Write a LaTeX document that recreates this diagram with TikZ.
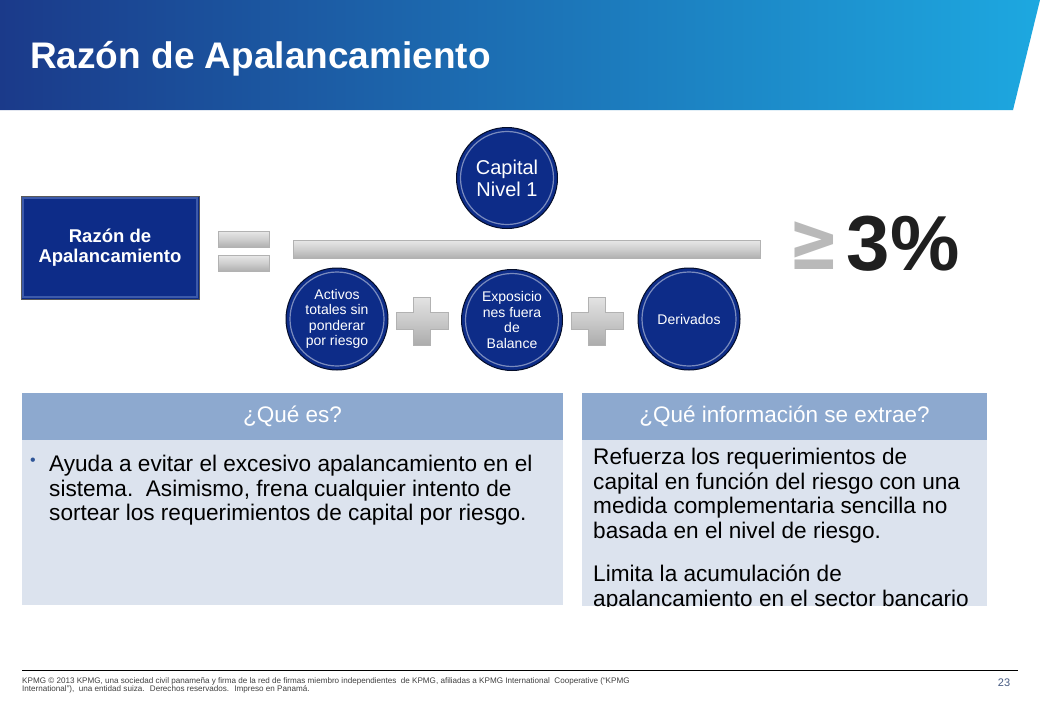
\documentclass[tikz,border=0pt]{standalone}
\usepackage{fontspec}
\setmainfont{Liberation Sans}
\newfontfamily\symfont{DejaVu Sans}
\definecolor{navy}{RGB}{13,44,136}
\definecolor{navyrim}{RGB}{60,90,170}
\definecolor{hdrL}{RGB}{27,58,138}
\definecolor{hdrR}{RGB}{29,168,224}
\definecolor{panelhead}{RGB}{141,169,207}
\definecolor{panelbody}{RGB}{220,227,238}
\definecolor{bulletblue}{RGB}{47,85,151}
\definecolor{pagenum}{RGB}{70,90,130}
\tikzset{
  ball/.style={circle, fill=navy, draw=black!70!navy, line width=1pt, text=white, align=center, inner sep=0pt},
  ballring/.style={draw=white, draw opacity=.45, line width=1.2pt},
  greybar/.style={rectangle, inner sep=0pt, top color=gray!18, bottom color=gray!62, middle color=gray!38, draw=gray!60},
  panelhdr/.style={rectangle, fill=panelhead, inner sep=0pt, text=white, font=\fontsize{22.5}{24}\selectfont},
  panelbox/.style={rectangle, fill=panelbody, inner sep=0pt},
  bodytext/.style={inner sep=0pt, align=left, font=\fontsize{22.6}{24.5}\selectfont, text=black},
  plussign/.pic={\shade[top color=gray!22, bottom color=gray!65, middle color=gray!42, draw=gray!60]
    (-26,-8.5) -- (-8.5,-8.5) -- (-8.5,-24) -- (8.5,-24) -- (8.5,-8.5) -- (26,-8.5) -- (26,8.5)
    -- (8.5,8.5) -- (8.5,24) -- (-8.5,24) -- (-8.5,8.5) -- (-26,8.5) -- cycle;}
}
\begin{document}
\begin{tikzpicture}[x=1pt,y=-1pt]
\useasboundingbox (0,0) rectangle (1040,720);
\fill[white] (0,0) rectangle (1040,720);
% header band
\shade[left color=hdrL, right color=hdrR] (0,0) -- (1040,0) -- (1013,110) -- (0,110) -- cycle;
\node[anchor=base west, inner sep=0pt, text=white, font=\fontsize{37}{40}\selectfont\bfseries] (title) at (30,68) {Razón de Apalancamiento};

% left ratio box
\node[rectangle, fill=navy, draw=black!65, line width=1pt, minimum width=178pt, minimum height=103pt, inner sep=0pt,
      text=white, align=center, font=\fontsize{18.5}{20}\selectfont\bfseries] (ratiobox) at (110,247.5) {Razón de\\Apalancamiento};
\draw[navyrim, line width=2.5pt] ([shift={(2.5,2.5)}]ratiobox.north west) rectangle ([shift={(-2.5,-2.5)}]ratiobox.south east);

% equals sign
\node[greybar, minimum width=51pt, minimum height=16pt] (eqtop) at (243.5,239) {};
\node[greybar, minimum width=51pt, minimum height=16pt] (eqbot) at (243.5,263) {};

% fraction bar
\node[greybar, minimum width=467pt, minimum height=18pt] (fracbar) at (526.5,249) {};

% numerator
\node[ball, minimum size=101pt, font=\fontsize{20}{22}\selectfont] (capital) at (507,178) {Capital\\Nivel 1};
\draw[ballring] (capital.center) circle (46.5pt);

% denominator
\node[ball, minimum size=102pt, font=\fontsize{14}{15.5}\selectfont] (activos) at (337,319) {Activos\\totales sin\\ponderar\\por riesgo};
\draw[ballring] (activos.center) circle (47pt);
\node[ball, minimum size=101pt, font=\fontsize{14}{15.5}\selectfont] (exposic) at (512,320) {Exposicio\\nes fuera\\de\\Balance};
\draw[ballring] (exposic.center) circle (46.5pt);
\node[ball, minimum size=102pt, font=\fontsize{14}{15.5}\selectfont] (deriv) at (689,319) {Derivados};
\draw[ballring] (deriv.center) circle (47pt);

\pic at (422,321) {plussign};
\pic at (597,321) {plussign};

% >= 3%
\node[inner sep=0pt, text=gray!55, font=\symfont\bfseries\fontsize{82}{82}\selectfont, xscale=0.75] (geq) at (814,246) {≥};
\node[inner sep=0pt, text=black!88, font=\fontsize{78}{78}\selectfont\bfseries] (pct) at (903,244) {3\%};

% bottom panels
\node[panelhdr, minimum width=541pt, minimum height=47pt] (qhdr) at (292.5,416.5) {¿Qué es?};
\node[panelbox, minimum width=541pt, minimum height=165pt] (qbody) at (292.5,522.5) {};
\node[inner sep=0pt, text=bulletblue, font=\fontsize{16}{16}\selectfont] (bullet) at (33,462) {•};
\node[bodytext, anchor=north west] (qtext) at (49,455) {Ayuda a evitar el excesivo apalancamiento en el\\sistema.\ \ Asimismo, frena cualquier intento de\\sortear los requerimientos de capital por riesgo.};

\node[panelhdr, minimum width=405pt, minimum height=47pt] (ihdr) at (784.5,416.5) {¿Qué información se extrae?};
\node[panelbox, minimum width=405pt, minimum height=166pt] (ibody) at (784.5,523) {};
\begin{scope}
\clip (ibody.north west) rectangle (ibody.south east);
\node[bodytext, anchor=north west] (itext) at (593,448) {Refuerza los requerimientos de\\capital en función del riesgo con una\\medida complementaria sencilla no\\basada en el nivel de riesgo.\\[19pt]Limita la acumulación de\\apalancamiento en el sector bancario};
\end{scope}

% footer
\draw[black, line width=0.8pt] (22,670) -- (1018,670);
\node[anchor=north west, inner sep=0pt, align=left, text=black!75, font=\fontsize{8.1}{8}\selectfont] (foot) at (22,677) {KPMG © 2013 KPMG, una sociedad civil panameña y firma de la red de firmas miembro independientes \ de KPMG, afiliadas a KPMG International \ Cooperative (“KPMG\\International”), \ una entidad suiza. \ Derechos reservados. \ Impreso en Panamá.};
\node[inner sep=0pt, text=pagenum, font=\fontsize{11}{11}\selectfont] (page) at (1004,683) {23};
\end{tikzpicture}
\end{document}
